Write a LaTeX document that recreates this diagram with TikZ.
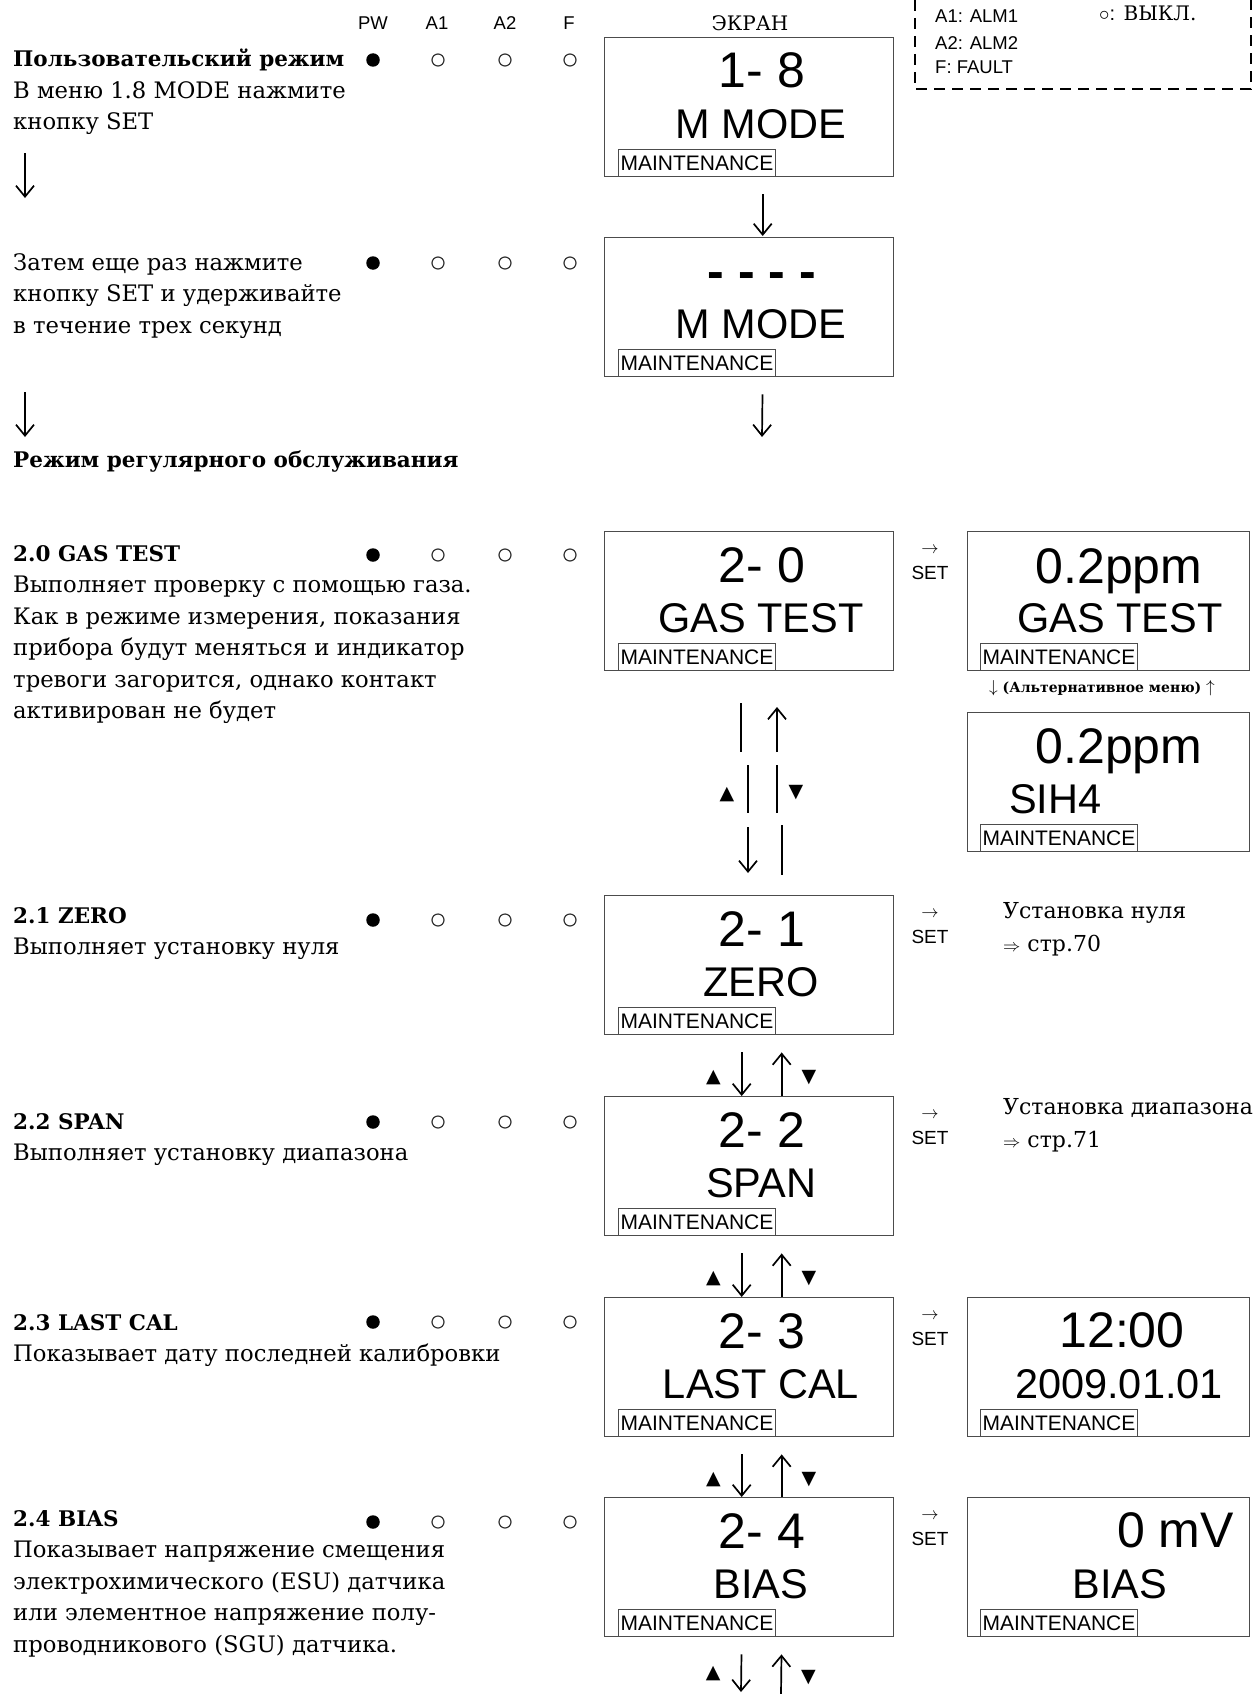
\documentclass[tikz,border=0pt]{standalone}
\usepackage{fontspec}
\setmainfont{DejaVu Serif}
\setsansfont{Liberation Sans}
\newfontfamily\symfont{DejaVu Sans}
\usetikzlibrary{arrows.meta, positioning}
\newcommand{\boldhead}[1]{{\fontsize{21.5}{31.5}\selectfont\bfseries #1}}

\tikzset{
  screen/.style={draw=black!70, line width=1.4pt, minimum width=289pt,
    minimum height=139pt, inner sep=0pt},
  rscreen/.style={screen, minimum width=282pt},
  mtag/.style={draw=black!70, line width=1.1pt, inner xsep=2pt, inner ysep=0pt,
    minimum height=27pt, font=\sffamily\fontsize{21}{21}\selectfont},
  lcd/.style={font=\sffamily\fontsize{50}{50}\selectfont, inner sep=0pt},
  lcdword/.style={font=\sffamily\fontsize{41.5}{41.5}\selectfont, inner sep=0pt},
  body/.style={font=\fontsize{22.7}{31.5}\selectfont, align=left, inner sep=0pt,
    execute at begin node={\rule{0pt}{18pt}}},
  hdr/.style={font=\sffamily\fontsize{18.5}{18.5}\selectfont, inner sep=0pt},
  scrhdr/.style={font=\fontsize{20}{20}\selectfont, inner sep=0pt},
  ledon/.style={circle, fill=black, minimum size=13.5pt, inner sep=0pt},
  ledoff/.style={circle, draw=black!80, line width=1.2pt, minimum size=12pt, inner sep=0pt},
  nav/.style={-{Straight Barb[length=11pt, width=18pt]}, line width=1.7pt},
  navbar/.style={line width=1.7pt},
  setlbl/.style={font=\sffamily\fontsize{19}{19}\selectfont, inner sep=0pt},
  tri/.style={font=\symfont\fontsize{19}{19}\selectfont, inner sep=0pt},
  legend/.style={line width=2.4pt, dash pattern=on 11pt off 7pt},
  altlbl/.style={font=\bfseries\fontsize{14}{14}\selectfont, inner sep=0pt}
}

\begin{document}
\begin{tikzpicture}[x=1pt, y=-1pt]
\useasboundingbox (0,0) rectangle (1259,1694);

% Заголовки колонок
\foreach \lbl/\x in {PW/373, A1/437, A2/505, F/569}
    \node[hdr, anchor=base] (h\lbl) at (\x,30) {\lbl};
\node[scrhdr, anchor=base] (hscr) at (750,31) {ЭКРАН};

% Легенда (верх обрезан)
\draw[legend] (915,0) -- (915,89) -- (1251,89) -- (1251,0);
\node[hdr, anchor=base west] (lgA1) at (935,23) {A1: ALM1};
\node[hdr, anchor=base west] (lgA2) at (935,49) {A2: ALM2};
\node[hdr, anchor=base west] (lgF) at (935,74) {F: FAULT};
\node[scrhdr, anchor=base west] (lgoff) at (1099,21) {$\circ${\sffamily:} ВЫКЛ.};

% Индикаторы
\foreach \r/\y in {1/60, 2/263, 3/555, 4/920, 5/1122, 6/1322, 7/1522} {
    \node[ledon] (pw\r) at (373,\y) {};
    \node[ledoff] (aa\r) at (438,\y) {};
    \node[ledoff] (ab\r) at (505,\y) {};
    \node[ledoff] (fl\r) at (570,\y) {};
}

% Тексты слева
\node[body, anchor=north west] (u1) at (13,49)
    {\boldhead{Пользовательский режим}\\В меню 1.8 MODE нажмите\\кнопку SET};
\node[body, anchor=north west] (u2) at (13,253)
    {Затем еще раз нажмите\\кнопку SET и удерживайте\\в течение трех секунд};
\node[body, anchor=north west] (u3) at (13,449)
    {\boldhead{Режим регулярного обслуживания}};
\node[body, anchor=north west] (m20) at (13,545)
    {\boldhead{2.0 GAS TEST}\\Выполняет проверку с помощью газа.\\Как в режиме измерения, показания\\
     прибора будут меняться и индикатор\\тревоги загорится, однако контакт\\активирован не будет};
\node[body, anchor=north west] (m21) at (13,907)
    {\boldhead{2.1 ZERO}\\Выполняет установку нуля};
\node[body, anchor=north west] (m22) at (13,1113)
    {\boldhead{2.2 SPAN}\\Выполняет установку диапазона};
\node[body, anchor=north west] (m23) at (13,1314)
    {\boldhead{2.3 LAST CAL}\\Показывает дату последней калибровки};
\node[body, anchor=north west] (m24) at (13,1510)
    {\boldhead{2.4 BIAS}\\Показывает напряжение смещения\\электрохимического (ESU) датчика\\
     или элементное напряжение полу-\\проводникового (SGU) датчика.};

\coordinate (a1top) at (25,153);
\coordinate (a1bot) at (25,198);
\coordinate (a2top) at (25,392);
\coordinate (a2bot) at (25,437);
\draw[nav] (a1top) -- (a1bot);
\draw[nav] (a2top) -- (a2bot);

% Экраны (левая колонка)
\foreach \nm/\ytop/\lcdnum/\lcdtxt in {s18/37/{1- 8}/{M MODE},
        smm/237/{\bfseries - - - -}/{M MODE}, s20/531/{2- 0}/{GAS TEST},
        s21/895/{2- 1}/{ZERO}, s22/1096/{2- 2}/{SPAN},
        s23/1297/{2- 3}/{LAST CAL}, s24/1497/{2- 4}/{BIAS}} {
    \node[screen, anchor=north west] (\nm) at (604,\ytop) {};
    \node[lcd, anchor=base] (\nm-num) at (762,\ytop+51) {\lcdnum};
    \node[lcdword, anchor=base] (\nm-txt) at (761,\ytop+101) {\lcdtxt};
    \node[mtag, anchor=south west] (\nm-tag) at ([xshift=14pt]\nm.south west) {MAINTENANCE};
}

% SET
\foreach \nm/\ytop in {s20/531, s21/895, s22/1096, s23/1297, s24/1497} {
    \node[setlbl] (\nm-set) at (930,\ytop+42) {SET};
    \node[setlbl, above=12pt of \nm-set] (\nm-arr) {$\rightarrow$};
}

% Экраны (правая колонка)
\node[rscreen, anchor=north west] (r20) at (967,531) {};
\node[lcd, anchor=base] (r20-num) at (1119,583) {0.2ppm};
\node[lcdword, anchor=base] (r20-txt) at (1120,632) {GAS TEST};
\node[mtag, anchor=south west] (r20-tag) at ([xshift=13pt]r20.south west) {MAINTENANCE};

\node[altlbl] (alt) at (1102,688)
    {{\fontsize{18}{18}\selectfont$\downarrow$} (Альтернативное меню) {\fontsize{18}{18}\selectfont$\uparrow$}};

\node[rscreen, anchor=north west] (rgas) at (967,712) {};
\node[lcd, anchor=base] (rgas-num) at (1119,763) {0.2ppm};
\node[lcdword, anchor=base west] (rgas-txt) at (1009,813) {SIH4};
\node[mtag, anchor=south west] (rgas-tag) at ([xshift=13pt]rgas.south west) {MAINTENANCE};

\node[rscreen, anchor=north west] (r23) at (967,1297) {};
\node[lcd, anchor=base] (r23-num) at (1122,1347) {12:00};
\node[lcdword, anchor=base] (r23-txt) at (1119,1398) {2009.01.01};
\node[mtag, anchor=south west] (r23-tag) at ([xshift=13pt]r23.south west) {MAINTENANCE};

\node[rscreen, anchor=north west] (r24) at (967,1497) {};
\node[lcd, anchor=base east] (r24-num) at (1234,1547) {0 mV};
\node[lcdword, anchor=base] (r24-txt) at (1120,1598) {BIAS};
\node[mtag, anchor=south west] (r24-tag) at ([xshift=13pt]r24.south west) {MAINTENANCE};

% Ссылки на страницы
\node[body, anchor=north west, font=\fontsize{22}{33}\selectfont] (s21-note) at (1003,902)
    {Установка нуля\\{\fontsize{16}{16}\selectfont$\Rightarrow$} стр.70};
\node[body, anchor=north west, font=\fontsize{22}{33}\selectfont] (s22-note) at (1003,1098)
    {Установка диапазона\\{\fontsize{16}{16}\selectfont$\Rightarrow$} стр.71};

% Переходы
\draw[nav, shorten <=17pt, shorten >=1pt] ([xshift=13.5pt]s18.south) -- ([xshift=13.5pt]smm.north);
\coordinate (mmend) at (762,437);
\draw[nav, shorten <=17pt] ([xshift=13.5pt]smm.south) -- (mmend);

% 2.0 <-> 2.1 (разорванные стрелки)
\foreach \x/\ya/\yb in {741/703/752, 748/765/813, 777/765/813, 782/825/875}
    \draw[navbar] (\x,\ya) -- (\x,\yb);
\draw[nav] (777,752) -- (777,707);
\draw[nav] (748,827) -- (748,873);
\node[tri] (upg) at (727,795) {▲};
\node[tri] (dng) at (796,793) {▼};

\foreach \a/\b in {s21/s22, s22/s23, s23/s24} {
    \draw[nav, shorten <=17pt] ([xshift=-7.5pt]\a.south) --
        node[tri, pos=0.7, left=20pt] (up-\a) {▲} ([xshift=-7.5pt]\b.north);
    \draw[nav, shorten >=17pt] ([xshift=32.5pt]\b.north) --
        node[tri, pos=0.3, right=19pt] (dn-\a) {▼} ([xshift=32.5pt]\a.south);
}
\coordinate (endL) at (741,1692);
\coordinate (endR) at (781,1694);
\draw[nav, shorten <=17pt] ([xshift=-7.5pt]s24.south) --
    node[tri, pos=0.67, left=20pt] (up-s24) {▲} (endL);
\draw[nav, shorten >=17pt] (endR) --
    node[tri, pos=0.29, right=19pt] (dn-s24) {▼} ([xshift=32.5pt]s24.south);

\end{tikzpicture}
\end{document}
